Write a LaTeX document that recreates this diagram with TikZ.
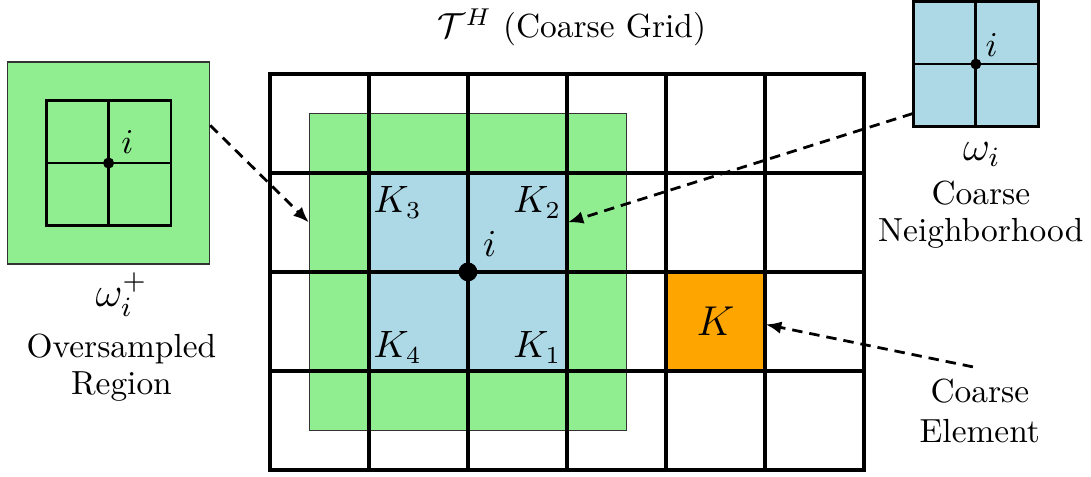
\documentclass[tikz,border=0pt]{standalone}
\usetikzlibrary{arrows.meta,positioning}
\definecolor{regiongreen}{HTML}{90EE90}
\definecolor{nbhdblue}{HTML}{ADD8E6}
\definecolor{elemorange}{HTML}{FFA500}

\begin{document}
\begin{tikzpicture}[
    every node/.style={font=\fontsize{9.6}{10.2}\selectfont},
    region/.style={draw=black!80, thin, fill=regiongreen, minimum size=#1, inner sep=0pt},
    nbhd/.style={fill=nbhdblue, minimum size=#1, inner sep=0pt},
    element/.style={fill=elemorange, minimum size=1cm, inner sep=0pt, font=\fontsize{13}{15}\selectfont},
    symbol/.style={anchor=base, inner sep=0.5pt, font=\fontsize{12}{14}\selectfont},
    caption/.style={align=center, inner sep=0.5pt, font=\fontsize{9.6}{10.7}\selectfont},
    gridline/.style={line width=0.9pt},
    insetline/.style={line width=0.8pt},
    pointer/.style={-{Latex[length=4.5pt, width=3.6pt]}, thick, densely dashed}
]
\useasboundingbox (-2.727,-0.071) rectangle (8.293,4.747);

% coarse grid with the oversampled region and the neighborhood
\node[region=3.2cm] (overreg) at (2,2) {};
\node[nbhd=2cm] (nbhdreg) at (2,2) {};
\node[element] (elem) at (4.5,1.5) {$K$};
\draw[gridline] (0,0) grid (6,4);
\draw[line width=1.2pt] (0,0) rectangle (6,4);
\fill (2,2) circle (0.095);
\node (ilabel) at (2.22,2.28) {\fontsize{10.5}{12}\selectfont$i$};
\node (k3) at (1.29,2.70) {\fontsize{10.5}{12}\selectfont$K_3$};
\node (k2) at (2.70,2.70) {\fontsize{10.5}{12}\selectfont$K_2$};
\node (k4) at (1.29,1.24) {\fontsize{10.5}{12}\selectfont$K_4$};
\node (k1) at (2.70,1.24) {\fontsize{10.5}{12}\selectfont$K_1$};
\node (title) at (3.05,4.47) {$\mathcal{T}^H$ (Coarse Grid)};

% oversampled region inset
\node[region=2.04cm] (omegaplus) at (-1.63,3.1) {};
\begin{scope}[shift={(omegaplus.center)}]
  \draw[insetline] (-0.63,-0.63) rectangle (0.63,0.63);
  \draw[insetline] (-0.63,0) -- (0.63,0);
  \draw[insetline] (0,-0.63) -- (0,0.63);
  \fill (0,0) circle (0.056);
\end{scope}
\node (iplus) at (-1.44,3.31) {$i$};
\node[symbol] (omegapluslabel) at (-1.5,1.646) {$\omega_i^+$};
\node[caption] (overlabel) at (-1.5,1.037) {Oversampled\\Region};

% coarse neighborhood inset
\node[nbhd=1.26cm] (omega) at (7.13,4.1) {};
\begin{scope}[shift={(omega.center)}]
  \draw[insetline] (-0.63,-0.63) rectangle (0.63,0.63);
  \draw[insetline] (-0.63,0) -- (0.63,0);
  \draw[insetline] (0,-0.63) -- (0,0.63);
  \fill (0,0) circle (0.055);
\end{scope}
\node (inbhd) at (7.29,4.29) {$i$};
\node[symbol] (omegalabel) at (7.19,3.13) {$\omega_i$};
\node[caption] (nbhdlabel) at (7.18,2.576) {Coarse\\Neighborhood};

% coarse element label
\node[align=center, font=\fontsize{9.6}{11.5}\selectfont] (elemlabel) at (7.17,0.594) {Coarse\\Element};

% pointers
\draw[pointer] ([yshift=0.38cm]omegaplus.east) -- ([yshift=0.5cm]overreg.west);
\draw[pointer] ([yshift=-0.5cm]omega.west) -- ([yshift=0.5cm]nbhdreg.east);
\draw[pointer] ([xshift=-0.07cm]elemlabel.north) -- ([yshift=-0.03cm]elem.east);
\end{tikzpicture}
\end{document}
